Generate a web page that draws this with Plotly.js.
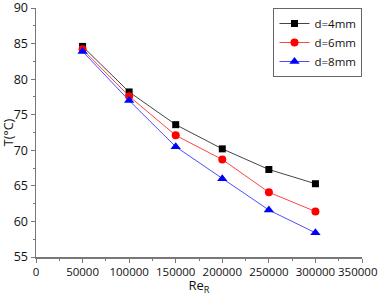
<!DOCTYPE html>
<html>
<head>
<meta charset="utf-8">
<script src="https://cdn.plot.ly/plotly-3.0.1.min.js"></script>
<style>html,body{margin:0;padding:0;background:#fff}#c{width:378px;height:296px}</style>
</head>
<body>
<div id="c"></div>
<script>
var reR = [50000, 100000, 150000, 200000, 250000, 300000];
var t4 = [84.6, 78.2, 73.6, 70.2, 67.3, 65.3];
var t6 = [84.2, 77.6, 72.1, 68.7, 64.1, 61.4];
var t8 = [83.9, 77.0, 70.5, 66.0, 61.6, 58.4];
var names = ['d=4mm', 'd=6mm', 'd=8mm'];
var xTickVals = [0, 50000, 100000, 150000, 200000, 250000, 300000, 350000];
var xTickText = ['0', '50000', '100000', '150000', '200000', '250000', '300000', ' '];
var xLastTick = 350000;
var xLastText = '350000';
var yTickVals = [55, 60, 65, 70, 75, 80, 85, 90];
var yTickText = ['55', '60', '65', '70', '75', '80', '85', '90'];

var traces = [
  {x: reR, y: t4, name: names[0], mode: 'lines+markers', type: 'scatter',
   line: {color: '#444444', width: 1}, marker: {symbol: 'square', size: 7, color: '#000000'}},
  {x: reR, y: t6, name: names[1], mode: 'lines+markers', type: 'scatter',
   line: {color: '#ff4444', width: 1}, marker: {symbol: 'circle', size: 8, color: '#ff0000'}},
  {x: reR, y: t8, name: names[2], mode: 'lines+markers', type: 'scatter',
   line: {color: '#4d4dff', width: 1}, marker: {symbol: 'triangle-up', size: 9, color: '#0000ff'}}
];

var xFont = {family: 'Open Sans, sans-serif', size: 11.5, color: '#111'};
var yFont = {family: 'Open Sans, sans-serif', size: 12.5, color: '#111'};
var layout = {
  width: 378, height: 296,
  margin: {l: 36, r: 16, t: 8, b: 39},
  paper_bgcolor: '#fff', plot_bgcolor: '#fff',
  showlegend: true,
  legend: {x: 0.865, y: 1, xanchor: 'center', yanchor: 'top',
           bordercolor: '#666', borderwidth: 1, bgcolor: '#fff',
           font: {family: 'Open Sans, sans-serif', size: 11.5, color: '#111'},
           tracegroupgap: 0, itemwidth: 30},
  annotations: [{x: xLastTick, xref: 'x', y: 0, yref: 'paper', text: xLastText,
                 showarrow: false, xanchor: 'right', yanchor: 'top', xshift: 15.5, yshift: -6,
                 borderpad: 0, font: xFont}],
  xaxis: {range: [0, 350000], tickmode: 'array', tickvals: xTickVals, ticktext: xTickText,
          ticklabeloverflow: 'allow', tickangle: 0,
          showgrid: false, zeroline: false,
          showline: true, linecolor: '#777', linewidth: 1.5, ticks: 'outside', ticklen: 4,
          tickcolor: '#777', tickwidth: 1, tickfont: xFont,
          minor: {dtick: 25000, tick0: 0, ticks: 'outside', ticklen: 2, tickcolor: '#777', showgrid: false},
          title: {text: 'Re<sub>R</sub>', font: {family: 'Open Sans, sans-serif', size: 13, color: '#111'}, standoff: 7}},
  yaxis: {range: [55, 90], tickmode: 'array', tickvals: yTickVals, ticktext: yTickText,
          ticklabeloverflow: 'allow',
          showgrid: false, zeroline: false,
          showline: true, linecolor: '#777', linewidth: 1.5, ticks: 'outside', ticklen: 4,
          tickcolor: '#777', tickwidth: 1, tickfont: yFont,
          minor: {dtick: 2.5, tick0: 55, ticks: 'outside', ticklen: 2, tickcolor: '#777', showgrid: false},
          title: {text: 'T(°C)', font: {family: 'Open Sans, sans-serif', size: 12.5, color: '#111'}, standoff: 2}}
};
Plotly.newPlot('c', traces, layout, {displayModeBar: false, staticPlot: true});
</script>
</body>
</html>
